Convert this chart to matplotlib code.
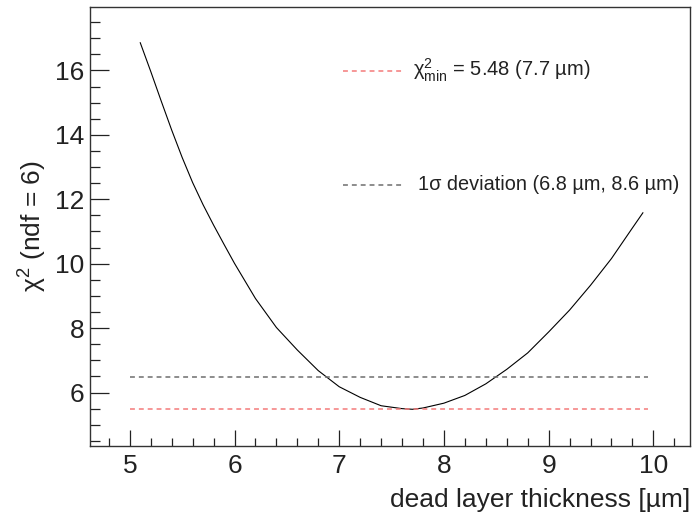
import matplotlib
matplotlib.use("Agg")
import matplotlib.pyplot as plt
from matplotlib.ticker import MultipleLocator

plt.rcParams["font.family"] = ["Liberation Sans", "DejaVu Sans"]
plt.rcParams["mathtext.fontset"] = "custom"
plt.rcParams["mathtext.rm"] = "Liberation Sans"
plt.rcParams["mathtext.it"] = "Liberation Sans:italic"

# chi2 scan
thickness = [5.1, 5.2, 5.3, 5.4, 5.5, 5.6, 5.7, 5.8, 5.9, 6.0, 6.2, 6.4, 6.6,
             6.8, 7.0, 7.2, 7.4, 7.6, 7.7, 7.8, 8.0, 8.2, 8.4, 8.6, 8.8, 9.0,
             9.2, 9.4, 9.6, 9.8, 9.9]
chi2 = [16.86, 15.97, 15.05, 14.15, 13.30, 12.52, 11.83, 11.20, 10.60, 10.01,
        8.92, 8.02, 7.32, 6.68, 6.18, 5.85, 5.59, 5.50, 5.48, 5.52, 5.67, 5.91,
        6.27, 6.72, 7.23, 7.88, 8.56, 9.33, 10.16, 11.11, 11.58]

chi2_min = 5.48
chi2_1sigma = chi2_min + 1.0
line_x = [5.0, 9.95]

fig = plt.figure(figsize=(6.94, 5.22), dpi=100)
ax = fig.add_axes([90 / 694, 76 / 522, 600 / 694, 439 / 522])

ax.plot(thickness, chi2, color="black", lw=0.8)
ax.plot(line_x, [chi2_min, chi2_min], color="#f47a7a", lw=1.1, dashes=(3.2, 2.6))
ax.plot(line_x, [chi2_1sigma, chi2_1sigma], color="#6e6e6e", lw=1.1, dashes=(3.2, 2.6))

ax.set_xlim(4.62, 10.35)
ax.set_ylim(4.34, 17.97)

ax.xaxis.set_major_locator(MultipleLocator(1))
ax.xaxis.set_minor_locator(MultipleLocator(0.2))
ax.yaxis.set_major_locator(MultipleLocator(2))
ax.yaxis.set_minor_locator(MultipleLocator(0.5))
ax.tick_params(which="both", direction="in", top=False, right=False,
               labelsize=19, width=0.9, colors="#222222")
ax.tick_params(axis="x", which="major", length=11.5, pad=6)
ax.tick_params(axis="x", which="minor", length=5.5)
ax.tick_params(axis="y", which="major", length=13.5, pad=4)
ax.tick_params(axis="y", which="minor", length=7)
for s in ax.spines.values():
    s.set_linewidth(1.0)
    s.set_color("#333333")

ax.set_xlabel("dead layer thickness [µm]", fontsize=19, color="#222222")
ax.xaxis.set_label_coords(1.0, -0.095)
ax.xaxis.label.set_horizontalalignment("right")
ax.set_ylabel(r"$\mathrm{\chi}^{2}$ (ndf = 6)", fontsize=19, color="#222222")
ax.yaxis.set_label_coords(-0.068, 0.50)

# legend-like entries
fig.lines.append(plt.Line2D([343 / 694, 405 / 694], [1 - 71 / 522] * 2,
                            transform=fig.transFigure, color="#f47a7a",
                            lw=1.1, dashes=(3.2, 2.6)))
fig.lines.append(plt.Line2D([343 / 694, 405 / 694], [1 - 185 / 522] * 2,
                            transform=fig.transFigure, color="#6e6e6e",
                            lw=1.1, dashes=(3.2, 2.6)))
fig.text(413 / 694, 1 - 70 / 522, r"$\mathrm{\chi}^{2}_{\mathrm{min}}$ = 5.48 (7.7 µm)",
         fontsize=14.5, va="center", color="#222222")
fig.text(418 / 694, 1 - 185 / 522, "1σ deviation (6.8 µm, 8.6 µm)",
         fontsize=14.3, va="center", color="#222222")

fig.savefig("out.png", dpi=100)
